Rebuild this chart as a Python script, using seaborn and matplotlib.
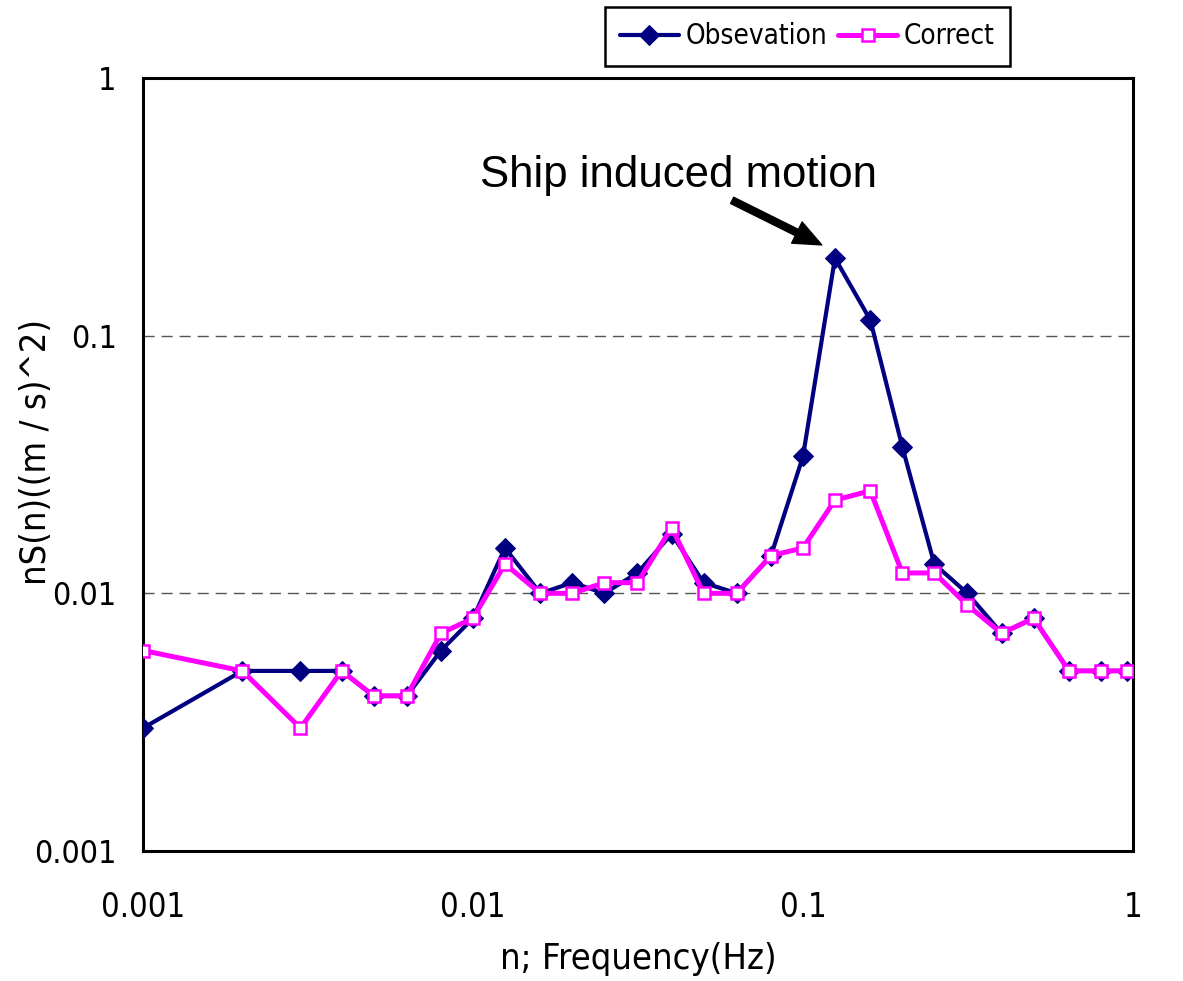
import matplotlib
matplotlib.use("Agg")
import matplotlib.pyplot as plt
from matplotlib import font_manager
import numpy as np
import pandas as pd
import seaborn as sns

# Spectral data: frequency (Hz) and nS(n) for each series
freq = [0.001, 0.002, 0.003, 0.004, 0.005, 0.0063, 0.008, 0.01, 0.0125, 0.016,
        0.02, 0.025, 0.0315, 0.04, 0.05, 0.063, 0.08, 0.1, 0.125, 0.16,
        0.2, 0.25, 0.315, 0.4, 0.5, 0.64, 0.8, 0.96]
observation = [0.003, 0.005, 0.005, 0.005, 0.004, 0.004, 0.006, 0.008, 0.015, 0.01,
               0.011, 0.01, 0.012, 0.017, 0.011, 0.01, 0.014, 0.034, 0.2, 0.115,
               0.037, 0.013, 0.01, 0.007, 0.008, 0.005, 0.005, 0.005]
correct = [0.006, 0.005, 0.003, 0.005, 0.004, 0.004, 0.007, 0.008, 0.013, 0.01,
           0.01, 0.011, 0.011, 0.018, 0.01, 0.01, 0.014, 0.015, 0.023, 0.025,
           0.012, 0.012, 0.009, 0.007, 0.008, 0.005, 0.005, 0.005]
series_names = ["Obsevation", "Correct"]
y_ticks = [0.001, 0.01, 0.1, 1]
y_tick_labels = ["0.001", "0.01", "0.1", "1"]
x_ticks = [0.001, 0.01, 0.1, 1]
x_tick_labels = ["0.001", "0.01", "0.1", "1"]

sns.set_style("white")
regular = ["Liberation Sans", "DejaVu Sans"]
plt.rcParams["font.family"] = regular
for key in ["text.color", "axes.labelcolor", "xtick.labelcolor", "ytick.labelcolor"]:
    plt.rcParams[key] = "black"


def narrow_font(size):
    """Pick a condensed sans face if one is installed."""
    fonts = font_manager.fontManager.ttflist
    names = {f.name for f in fonts}
    if "Liberation Sans Narrow" in names:
        return font_manager.FontProperties(family="Liberation Sans Narrow", size=size)
    for fam in ["Liberation Sans", "Noto Sans", "DejaVu Sans", "Roboto", "Open Sans", "Lato", "Inter"]:
        for st in ["condensed", "semi-condensed", "extra-condensed"]:
            if any(f.name == fam and f.stretch == st and f.style == "normal"
                   and f.weight in (400, "normal", "regular") for f in fonts):
                return font_manager.FontProperties(family=fam, stretch=st, size=size)
    for f in fonts:
        if ("Condensed" in f.name or "Narrow" in f.name) and f.style == "normal":
            return font_manager.FontProperties(family=f.name, size=size)
    return font_manager.FontProperties(family="Liberation Sans", size=size)


df = pd.concat([
    pd.DataFrame({"freq": freq, "value": observation, "series": series_names[0]}),
    pd.DataFrame({"freq": freq, "value": correct, "series": series_names[1]}),
])

fig = plt.figure(figsize=(11.83, 9.81), dpi=100)
ax = fig.add_axes([0.1209, 0.1325, 0.8368, 0.788])

navy, magenta = "#000080", "#FF00FF"
sns.lineplot(data=df[df.series == series_names[0]], x="freq", y="value", ax=ax,
             color=navy, lw=3.0, marker="D", markersize=10.5,
             markeredgecolor=navy, markerfacecolor=navy,
             label=series_names[0], zorder=3)
sns.lineplot(data=df[df.series == series_names[1]], x="freq", y="value", ax=ax,
             color=magenta, lw=3.6, marker="s", markersize=9,
             markeredgecolor=magenta, markerfacecolor="white", markeredgewidth=1.8,
             label=series_names[1], zorder=4)

ax.set_xscale("log")
ax.set_yscale("log")
ax.set_xlim(0.001, 1)
ax.set_ylim(0.001, 1)

# dashed horizontal guides
for yv in [0.01, 0.1]:
    ax.axhline(yv, color="#555555", lw=1.0, ls=(0, (8, 5)), zorder=1)

ax.set_yticks(y_ticks)
ax.set_yticklabels(y_tick_labels, fontproperties=narrow_font(23))
ax.set_xticks(x_ticks)
ax.set_xticklabels(x_tick_labels, fontproperties=narrow_font(23.5))
ax.minorticks_off()
ax.tick_params(axis="y", length=0, pad=19)
ax.tick_params(axis="x", direction="in", length=9, width=1.2, color="#555555", pad=29)

for side in ["left", "bottom", "right", "top"]:
    ax.spines[side].set_color("black")
    ax.spines[side].set_linewidth(2.2)

ax.set_xlabel("n; Frequency(Hz)", fontproperties=narrow_font(26), labelpad=13)
ax.set_ylabel("nS(n)((m / s)^2)", fontproperties=narrow_font(26))
ax.yaxis.set_label_coords(-0.091, 0.516)

leg = ax.legend(loc="upper left", bbox_to_anchor=(0.4667, 1.0918), ncol=2,
                frameon=True, fancybox=False, edgecolor="black",
                prop=narrow_font(20),
                handlelength=2.1, handletextpad=0.25, columnspacing=0.4,
                borderpad=0.55, borderaxespad=0)
leg.get_frame().set_linewidth(1.8)
leg.get_frame().set_alpha(1)

ax.text(0.042, 0.42, "Ship induced motion", fontsize=31.5, family=regular,
        ha="center", va="center")
ax.annotate("", xy=(0.114, 0.225), xytext=(0.061, 0.335),
            arrowprops=dict(facecolor="black", edgecolor="black",
                            width=5, headwidth=17, headlength=20, shrink=0))

fig.savefig("out.png", dpi=100)
